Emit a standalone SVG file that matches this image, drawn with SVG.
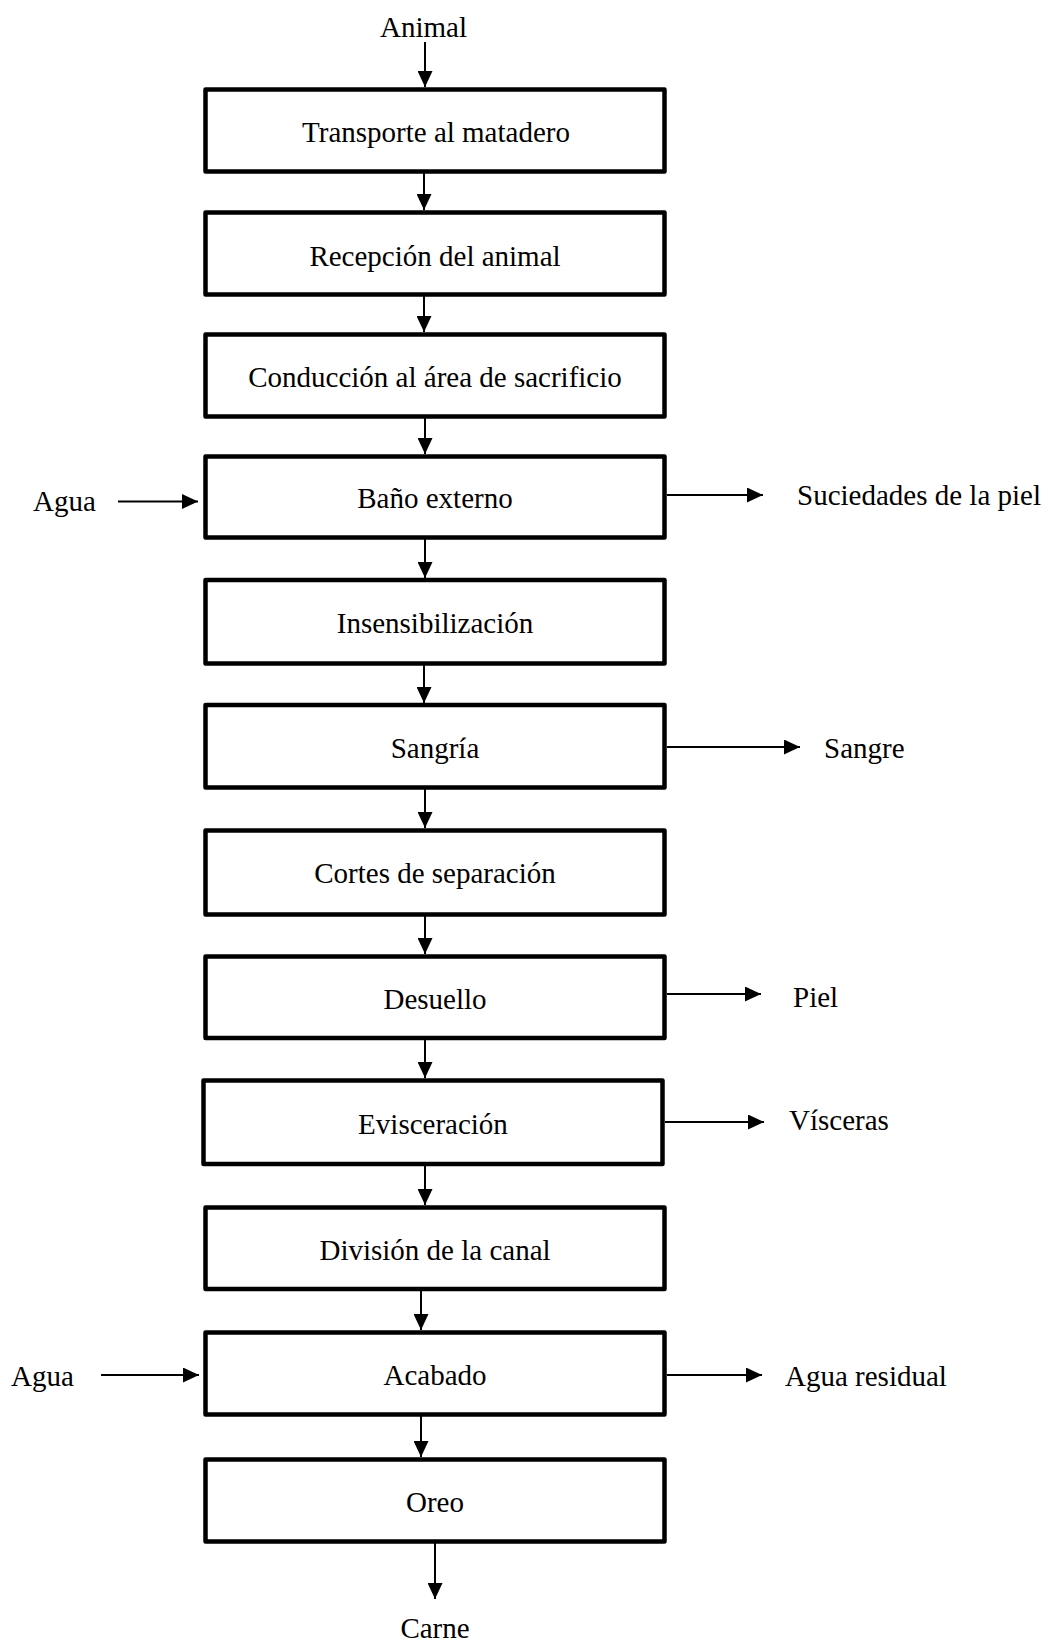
<svg xmlns="http://www.w3.org/2000/svg" width="1049" height="1643" viewBox="0 0 1049 1643">
<style>
.box{fill:#fff;stroke:#000;stroke-width:4.5;stroke-linejoin:round}
.t{font-family:"Liberation Serif","Times New Roman",serif;font-size:29px;fill:#000}
.c{text-anchor:middle}
.ln{stroke:#000;stroke-width:2;fill:none;marker-end:url(#ah)}
</style>
<defs>
<marker id="ah" markerUnits="userSpaceOnUse" markerWidth="16" markerHeight="15" refX="16" refY="7.5" orient="auto">
<path d="M0,0 L16,7.5 L0,15 Z" fill="#000"/>
</marker>
</defs>
<rect width="1049" height="1643" fill="#fff"/>
<g id="connectors">
<line class="ln" x1="425" y1="42" x2="425" y2="87"/>
<line class="ln" x1="424" y1="173" x2="424" y2="210"/>
<line class="ln" x1="424" y1="296" x2="424" y2="332"/>
<line class="ln" x1="425" y1="418" x2="425" y2="454"/>
<line class="ln" x1="425" y1="539" x2="425" y2="578"/>
<line class="ln" x1="424" y1="665" x2="424" y2="703"/>
<line class="ln" x1="425" y1="789" x2="425" y2="828"/>
<line class="ln" x1="425" y1="916" x2="425" y2="954"/>
<line class="ln" x1="425" y1="1040" x2="425" y2="1078"/>
<line class="ln" x1="425" y1="1166" x2="425" y2="1205"/>
<line class="ln" x1="421" y1="1291" x2="421" y2="1330"/>
<line class="ln" x1="421" y1="1416" x2="421" y2="1457"/>
<line class="ln" x1="435" y1="1543" x2="435" y2="1599"/>
<line class="ln" x1="118" y1="501.5" x2="198" y2="501.5"/>
<line class="ln" x1="667" y1="495" x2="763" y2="495"/>
<line class="ln" x1="667" y1="747" x2="800" y2="747"/>
<line class="ln" x1="667" y1="994" x2="761" y2="994"/>
<line class="ln" x1="665" y1="1122" x2="764" y2="1122"/>
<line class="ln" x1="101" y1="1375" x2="199" y2="1375"/>
<line class="ln" x1="667" y1="1375" x2="762" y2="1375"/>
</g>
<g id="n-animal"><text class="t c" x="423.5" y="37">Animal</text></g>
<g id="n1"><rect class="box" x="205.5" y="89.5" width="459" height="82"/><text class="t c" x="436" y="142">Transporte al matadero</text></g>
<g id="n2"><rect class="box" x="205.5" y="212.5" width="459" height="82"/><text class="t c" x="435" y="266">Recepción del animal</text></g>
<g id="n3"><rect class="box" x="205.5" y="334.5" width="459" height="82"/><text class="t c" x="435" y="387">Conducción al área de sacrificio</text></g>
<g id="n4"><rect class="box" x="205.5" y="456.5" width="459" height="81"/><text class="t c" x="435" y="508">Baño externo</text></g>
<g id="n5"><rect class="box" x="205.5" y="580" width="459" height="83.5"/><text class="t c" x="435" y="633">Insensibilización</text></g>
<g id="n6"><rect class="box" x="205.5" y="705" width="459" height="82.5"/><text class="t c" x="435" y="758">Sangría</text></g>
<g id="n7"><rect class="box" x="205.5" y="830.5" width="459" height="84"/><text class="t c" x="435" y="883">Cortes de separación</text></g>
<g id="n8"><rect class="box" x="205.5" y="956.5" width="459" height="81.5"/><text class="t c" x="435" y="1009">Desuello</text></g>
<g id="n9"><rect class="box" x="203.5" y="1080.5" width="459" height="83.5"/><text class="t c" x="433" y="1134">Evisceración</text></g>
<g id="n10"><rect class="box" x="205.5" y="1207.5" width="459" height="81.5"/><text class="t c" x="435" y="1260">División de la canal</text></g>
<g id="n11"><rect class="box" x="205.5" y="1332.5" width="459" height="82"/><text class="t c" x="435" y="1385">Acabado</text></g>
<g id="n12"><rect class="box" x="205.5" y="1459.5" width="459" height="82"/><text class="t c" x="435" y="1512">Oreo</text></g>
<g id="n-carne"><text class="t c" x="435" y="1638">Carne</text></g>
<g id="n-agua1"><text class="t" x="33" y="511">Agua</text></g>
<g id="n-suciedades"><text class="t" x="797" y="505">Suciedades de la piel</text></g>
<g id="n-sangre"><text class="t" x="824" y="758">Sangre</text></g>
<g id="n-piel"><text class="t" x="793" y="1007">Piel</text></g>
<g id="n-visceras"><text class="t" x="789" y="1130">Vísceras</text></g>
<g id="n-agua2"><text class="t" x="11" y="1386">Agua</text></g>
<g id="n-aguaresidual"><text class="t" x="785" y="1386">Agua residual</text></g>
</svg>
